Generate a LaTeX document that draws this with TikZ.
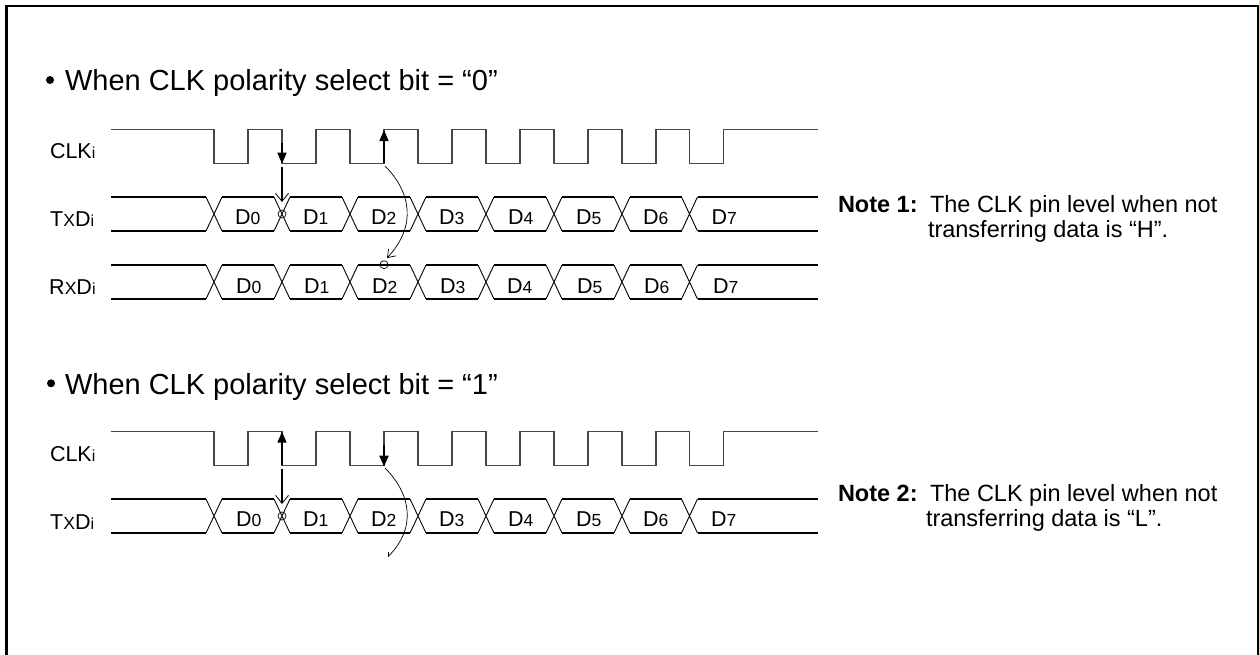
\documentclass[tikz,border=0pt]{standalone}
\usepackage{fontspec}
\setmainfont{Liberation Sans}
\usetikzlibrary{arrows.meta}
\newcommand{\lbl}[3]{{\fontsize{21.5}{21.5}\selectfont #1{\fontsize{#3}{#3}\selectfont #2}}}
\newcommand{\clockwave}[2]{%
  \draw[clkline] (111,#1) -| (214,#2) -| (248,#1) -| (282,#2) -| (316,#1) -| (350,#2) -| (384,#1)
   -| (418,#2) -| (452,#1) -| (486,#2) -| (520,#1) -| (554,#2) -| (588,#1) -| (622,#2) -| (656,#1)
   -| (689.5,#2) -| (723.5,#1) -- (818,#1);}
\newcommand{\busline}[2]{%
  \draw[busline] (111,#1) -- (206,#1) (111,#2) -- (206,#2);
  \foreach \a/\b in {222/274,290/342,358/410,426/478,494/546,562/614,630/681.5,697.5/818}{
    \draw[busline] (\a,#1) -- (\b,#1) (\a,#2) -- (\b,#2);}
  \foreach \c in {214,282,350,418,486,554,622,689.5}{
    \draw[crossline] (\c-8,#1) -- (\c+8,#2) (\c-8,#2) -- (\c+8,#1);}}
\newcommand{\dlabels}[9]{%
  \foreach \n/\x in {0/#2,1/#3,2/#4,3/#5,4/#6,5/#7,6/#8,7/#9}{
    \node[txt] (#1d\n) at (\x,#1) {\lbl{D}{\n}{17.5}};}}
\tikzset{
  frame/.style={draw=black,line width=2.4pt},
  clkline/.style={draw=black!72,line width=1.2pt},
  busline/.style={draw=black,line width=1.7pt},
  crossline/.style={draw=black,line width=0.9pt},
  txt/.style={anchor=base west,inner sep=0pt,outer sep=0pt,text=black},
  solidarrow/.style={draw=black,line width=1.5pt,-{Triangle[length=11pt,width=9pt]}},
  openarrow/.style={draw=black,line width=1.3pt,-{Straight Barb[length=8pt,width=13pt,line width=0.8pt]}},
  curvearrow/.style={draw=black,line width=0.7pt,-{Straight Barb[length=7pt,width=10pt,line width=0.7pt]}},
  curveline/.style={draw=black,line width=0.7pt},
  mark circle/.style={draw=black,line width=0.7pt,circle,minimum size=8pt,inner sep=0pt},
}
\begin{document}
\begin{tikzpicture}[x=1pt,y=-1pt]
\useasboundingbox (0,0) rectangle (1259,654);
\draw[frame] (6.4,660) -- (6.4,6.2) -- (1258.2,6.2) -- (1258.2,660);

% titles
\fill (50,80) circle (4pt);
\node[txt] (title1) at (65,90) {\fontsize{29}{29}\selectfont When CLK polarity select bit = “0”};
\fill (51,383.3) circle (4pt);
\node[txt] (title2) at (65,394) {\fontsize{29}{29}\selectfont When CLK polarity select bit = “1”};

% signal names
\node[txt] (clk1) at (50,158.3) {\lbl{CLK}{i}{16}};
\node[txt] (tx1) at (50,226.7) {\lbl{T}{\kern0.3pt X}{17.5}\lbl{D}{i}{16}};
\node[txt] (rx1) at (49,294) {\lbl{R}{\kern0.3pt X}{17.5}\lbl{D}{i}{16}};
\node[txt] (clk2) at (50,461) {\lbl{CLK}{i}{16}};
\node[txt] (tx2) at (50,529) {\lbl{T}{\kern0.3pt X}{17.5}\lbl{D}{i}{16}};

% waveforms
\clockwave{129.7}{163.7}
\busline{197}{231}
\busline{265}{299}
\clockwave{431.7}{465.7}
\busline{499}{533}

% data labels
\dlabels{224.3}{235}{303}{371}{439}{508}{576}{643}{711.7}
\dlabels{293}{236}{304}{372}{440}{507}{577}{644}{713}
\dlabels{526}{236}{303}{371}{439}{508}{576}{643}{711}

% upper timing marks
\coordinate (fa1) at (282,143);   \coordinate (fa2) at (282,163.7);
\coordinate (ob1) at (282,167);   \coordinate (ob2) at (282,202);
\coordinate (ra1) at (384,163);   \coordinate (ra2) at (384,130);
\coordinate (cv1) at (385,166);   \coordinate (cv2) at (387,258);
\node[mark circle] (m1) at (282,214) {};
\node[mark circle] (m2) at (384,264.7) {};
\draw[solidarrow] (fa1) -- (fa2);
\draw[openarrow] (ob1) -- (ob2);
\draw[solidarrow] (ra1) -- (ra2);
\draw[curvearrow] (cv1) .. controls (411,192) and (417,226) .. (cv2);

% lower timing marks
\coordinate (fb1) at (282,465);   \coordinate (fb2) at (282,431.7);
\coordinate (oc1) at (282,469);   \coordinate (oc2) at (282,504);
\coordinate (rb1) at (384,445);   \coordinate (rb2) at (384,466.7);
\coordinate (cw1) at (385,468);   \coordinate (cw2) at (388,556.7);
\coordinate (ck1) at (388,552);
\node[mark circle] (m3) at (282,516) {};
\draw[solidarrow] (fb1) -- (fb2);
\draw[openarrow] (oc1) -- (oc2);
\draw[solidarrow] (rb1) -- (rb2);
\draw[curveline] (cw1) .. controls (411,494) and (417,528) .. (cw2);
\draw[curveline] (ck1) -- (cw2);

% notes
\node[txt] (n1) at (838,212) {\fontsize{23.5}{23.5}\selectfont\bfseries Note 1:};
\node[txt] (n1a) at (930,212) {\fontsize{23.5}{23.5}\selectfont The CLK pin level when not};
\node[txt] (n1b) at (928,237) {\fontsize{23.5}{23.5}\selectfont transferring data is “H”.};
\node[txt] (n2) at (838,501.7) {\fontsize{23.5}{23.5}\selectfont\bfseries Note 2:};
\node[txt] (n2a) at (930,501.7) {\fontsize{23.5}{23.5}\selectfont The CLK pin level when not};
\node[txt] (n2b) at (926,526.7) {\fontsize{23.5}{23.5}\selectfont transferring data is “L”.};
\end{tikzpicture}
\end{document}
